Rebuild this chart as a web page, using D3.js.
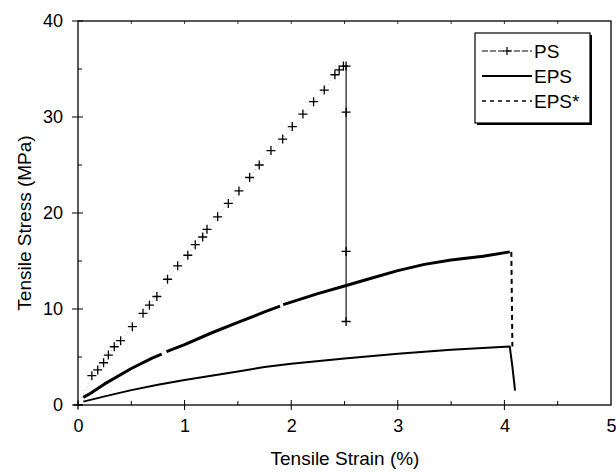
<!DOCTYPE html>
<html><head><meta charset="utf-8">
<script src="https://cdn.jsdelivr.net/npm/d3@7"></script>
<style>body{margin:0;background:#fff}svg{display:block}text{font-family:"Liberation Sans",Arial,sans-serif;fill:#000}</style>
</head><body>
<script>
// ---- data ----
const xTickLabels = [0, 1, 2, 3, 4, 5];
const yTickLabels = [0, 10, 20, 30, 40];
const seriesNames = ["PS", "EPS", "EPS*"];
// PS: markers (strain %, stress MPa); rising part then vertical failure drop
const psStrain = [0, 0.13, 0.185, 0.24, 0.285, 0.34, 0.40, 0.51, 0.61, 0.67, 0.74, 0.84, 0.935, 1.03, 1.10, 1.17, 1.21, 1.31, 1.41, 1.51, 1.61, 1.70, 1.81, 1.92, 2.01, 2.11, 2.21, 2.31, 2.41, 2.45, 2.49, 2.515, 2.515, 2.515, 2.515];
const psStress = [0, 3.05, 3.65, 4.4, 5.2, 6.07, 6.7, 8.16, 9.55, 10.4, 11.3, 13.1, 14.5, 15.6, 16.7, 17.5, 18.3, 19.6, 21.0, 22.3, 23.7, 25.0, 26.5, 27.7, 29.0, 30.3, 31.6, 32.8, 34.4, 34.9, 35.3, 35.3, 30.5, 16.0, 8.7];
const psPeakIndex = 31; // index where vertical drop begins
// EPS (solid thin curve), ends with near-vertical drop
const epsStrain = [0.05, 0.25, 0.5, 0.75, 1.0, 1.25, 1.5, 1.75, 2.0, 2.5, 3.0, 3.5, 4.05, 4.075, 4.1];
const epsStress = [0.35, 0.9, 1.55, 2.1, 2.6, 3.05, 3.5, 3.95, 4.3, 4.85, 5.35, 5.75, 6.1, 4.0, 1.5];
// EPS* (thick curve with data gaps = null), then dashed drop at failure
const epsStarStrain = [0.05, 0.1, 0.25, 0.5, 0.7, 0.785, null, 0.83, 1.0, 1.25, 1.5, 1.75, 1.895, null, 1.925, 2.25, 2.5, 2.75, 3.0, 3.25, 3.5, 3.8, 4.05];
const epsStarStress = [0.8, 1.1, 2.2, 3.8, 4.9, 5.3, null, 5.55, 6.3, 7.5, 8.6, 9.7, 10.3, null, 10.45, 11.6, 12.4, 13.2, 14.0, 14.65, 15.1, 15.5, 15.95];
const epsStarDropStrain = [4.065, 4.075];
const epsStarDropStress = [15.95, 6.1];

// ---- chart ----
const W = 616, H = 472;
const svg = d3.select("body").append("svg").attr("width", W).attr("height", H);
const x = d3.scaleLinear().domain([0, 5]).range([78, 611]);
const y = d3.scaleLinear().domain([0, 40]).range([405, 21]);

const g = svg.append("g");
// frame
g.append("rect").attr("x", x(0)).attr("y", y(40)).attr("width", x(5) - x(0)).attr("height", y(0) - y(40))
  .attr("fill", "none").attr("stroke", "#000").attr("stroke-width", 1.3);

// x axis ticks
const xMinor = d3.range(0.5, 5, 1);
const xAxisMajor = d3.axisBottom(x).tickValues(xTickLabels).tickSize(0).tickPadding(14).tickFormat(d3.format("d"));
const xa = g.append("g").attr("transform", `translate(0,${y(0)})`).call(xAxisMajor);
xa.select(".domain").remove();
xa.selectAll("text").attr("font-size", 18).attr("font-family", "Liberation Sans, Arial, sans-serif");
g.selectAll(".xmaj").data(xTickLabels.slice(1, -1)).join("line")
  .attr("x1", d => x(d)).attr("x2", d => x(d)).attr("y1", y(0) - 5).attr("y2", y(0) + 5).attr("stroke", "#000").attr("stroke-width", 1);
g.selectAll(".xmin").data(xMinor).join("line")
  .attr("x1", d => x(d)).attr("x2", d => x(d)).attr("y1", y(0) - 4).attr("y2", y(0)).attr("stroke", "#000").attr("stroke-width", 1);
g.selectAll(".xtop").data(xMinor.concat(xTickLabels.slice(1, -1))).join("line")
  .attr("x1", d => x(d)).attr("x2", d => x(d)).attr("y1", y(40)).attr("y2", y(40) + 3).attr("stroke", "#000").attr("stroke-width", 0.8);

// y axis ticks
const yMinor = d3.range(5, 40, 10);
const yAxisMajor = d3.axisLeft(y).tickValues(yTickLabels).tickSize(0).tickPadding(15).tickFormat(d3.format("d"));
const ya = g.append("g").attr("transform", `translate(${x(0)},0)`).call(yAxisMajor);
ya.select(".domain").remove();
ya.selectAll("text").attr("font-size", 18).attr("font-family", "Liberation Sans, Arial, sans-serif");
g.selectAll(".ymaj").data(yTickLabels).join("line")
  .attr("x1", x(0) - 6).attr("x2", x(0) + 5).attr("y1", d => y(d)).attr("y2", d => y(d)).attr("stroke", "#000").attr("stroke-width", 1);
g.selectAll(".ymin").data(yMinor).join("line")
  .attr("x1", x(0)).attr("x2", x(0) + 4).attr("y1", d => y(d)).attr("y2", d => y(d)).attr("stroke", "#000").attr("stroke-width", 1);

// axis titles
svg.append("text").attr("x", 345).attr("y", 465).attr("text-anchor", "middle")
  .attr("font-size", 19).text("Tensile Strain (%)");
svg.append("text").attr("transform", `translate(31,223) rotate(-90)`).attr("text-anchor", "middle")
  .attr("font-size", 19).text("Tensile Stress (MPa)");

// ---- series ----
const line = d3.line().defined(d => d[0] != null && d[1] != null).x(d => x(d[0])).y(d => y(d[1]));
const ps = psStrain.map((v, i) => [v, psStress[i]]);
const eps = epsStrain.map((v, i) => [v, epsStress[i]]);
const epsStar = epsStarStrain.map((v, i) => [v, epsStarStress[i]]);
const epsStarDrop = epsStarDropStrain.map((v, i) => [v, epsStarDropStress[i]]);

// PS connecting line: faint dotted while rising, solid at failure drop
g.append("path").attr("d", line(ps.slice(0, psPeakIndex + 1))).attr("fill", "none")
  .attr("stroke", "#aaa").attr("stroke-width", 0.8).attr("stroke-dasharray", "1,3");
g.append("path").attr("d", line(ps.slice(psPeakIndex))).attr("fill", "none")
  .attr("stroke", "#000").attr("stroke-width", 1.1);
// PS markers
g.selectAll(".psm").data(ps).join("path")
  .attr("transform", d => `translate(${x(d[0])},${y(d[1])})`)
  .attr("d", "M-4.5,0H4.5M0,-4.5V4.5").attr("stroke", "#000").attr("stroke-width", 1.3).attr("fill", "none");

// EPS thin solid
g.append("path").attr("d", line(eps)).attr("fill", "none").attr("stroke", "#000").attr("stroke-width", 2)
  .attr("stroke-linejoin", "round");
// EPS* thick curve + dashed drop
g.append("path").attr("d", line(epsStar)).attr("fill", "none").attr("stroke", "#000").attr("stroke-width", 3)
  .attr("stroke-linejoin", "round");
g.append("path").attr("d", line(epsStarDrop)).attr("fill", "none").attr("stroke", "#000").attr("stroke-width", 2)
  .attr("stroke-dasharray", "5,4");

// ---- legend ----
const lg = svg.append("g").attr("transform", "translate(475,33)");
const lw = 115, lh = 90;
lg.append("rect").attr("x", 2).attr("y", 2).attr("width", lw).attr("height", lh).attr("fill", "#000");
lg.append("rect").attr("x", 0).attr("y", 0).attr("width", lw).attr("height", lh).attr("fill", "#fff")
  .attr("stroke", "#000").attr("stroke-width", 1.2);
const rowY = [18, 43, 68];
const styles = [
  {w: 1, dash: "6,2", marker: true},
  {w: 2.2, dash: null, marker: false},
  {w: 1.3, dash: "4,4", marker: false}
];
seriesNames.forEach((name, i) => {
  const r = lg.append("g").attr("transform", `translate(0,${rowY[i]})`);
  r.append("line").attr("x1", 7).attr("x2", 57).attr("y1", 0).attr("y2", 0).attr("stroke", "#000")
    .attr("stroke-width", styles[i].w).attr("stroke-dasharray", styles[i].dash);
  if (styles[i].marker) r.append("path").attr("transform", "translate(32,0)").attr("d", "M-4,0H4M0,-4V4")
    .attr("stroke", "#000").attr("stroke-width", 1.2);
  r.append("text").attr("x", 59).attr("y", 0).attr("dy", "0.35em").attr("font-size", 19).text(name);
});
</script>
</body></html>
